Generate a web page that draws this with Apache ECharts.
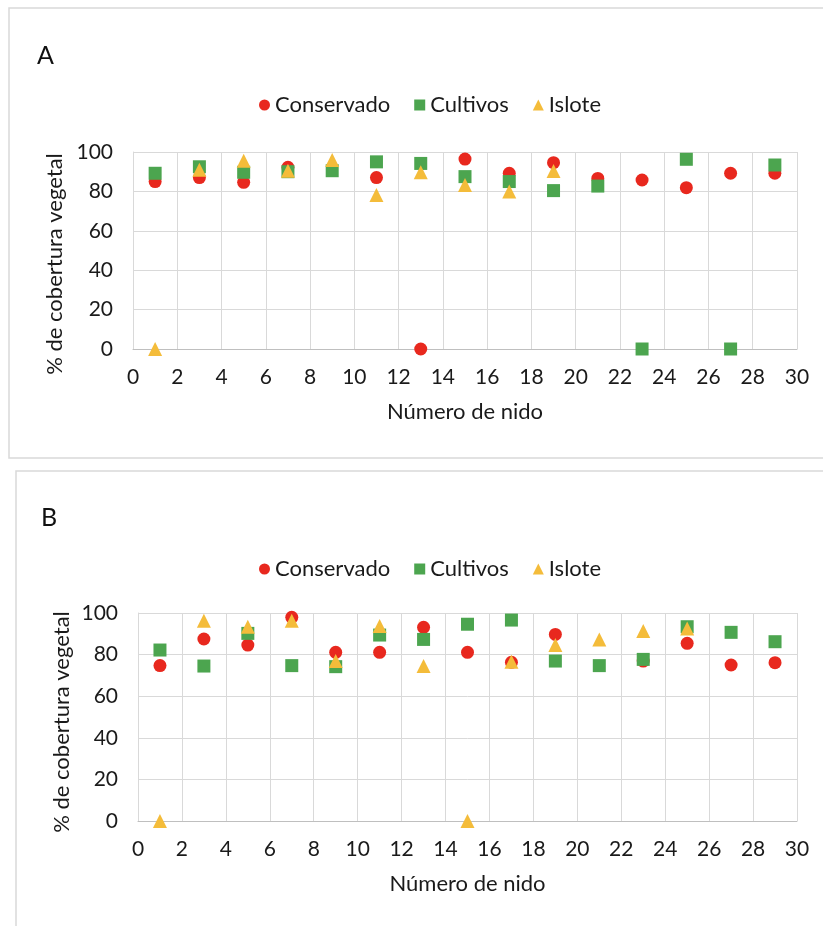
<!DOCTYPE html>
<html><head><meta charset="utf-8">
<script src="https://cdn.jsdelivr.net/npm/echarts@6/dist/echarts.min.js"></script>
<style>html,body{margin:0;padding:0;background:#fff}#c{width:823px;height:926px}</style>
</head><body><div id="c"></div>
<script>
const nests = [1,3,5,7,9,11,13,15,17,19,21,23,25,27,29];
const xTicks = [0,2,4,6,8,10,12,14,16,18,20,22,24,26,28,30];
const yTicks = [0,20,40,60,80,100];
const seriesNames = ['Conservado','Cultivos','Islote'];
// Panel A
const aConservado = [85,87,84.6,92.2,null,87,0,96.4,89.2,94.6,86.6,85.8,81.9,89.2,89.2];
const aCultivos   = [89.2,92.5,89.7,90,90.5,95,94.2,87.5,85,80.4,82.7,0,96.3,0,93.4];
const aIslote     = [0,91,95.6,90.5,96,78.2,89.7,83.2,79.9,90.4,null,null,null,null,null];
// Panel B
const bConservado = [74.7,87.5,84.6,97.9,81.1,81.1,93.1,81.1,76.3,89.7,null,76.9,85.4,75,76.1];
const bCultivos   = [82.2,74.5,90.2,74.7,74.2,89.4,87.3,94.6,96.6,76.9,74.7,77.7,93.4,90.7,86.2];
const bIslote     = [0,96.3,93.4,96.3,76.9,93.8,74.5,0,76.6,84.6,87.3,91.3,92.6,null,null];

const FONT = 'Lato';
const TXT = '#1a1a1a';
const colors = ['#E8281E','#4CA54F','#F4BC3A'];
const symbols = ['circle','rect','triangle'];
const sizes = [13,13,14];

function pairs(vals){ return nests.map((n,i)=>[n, vals[i]]); }

const grids = [
  {left:133, top:152, width:664, height:197},
  {left:138, top:613, width:659, height:208}
];
function xAx(gi){
  return {gridIndex:gi, type:'value', min:xTicks[0], max:xTicks[xTicks.length-1], interval:2,
    name:'Número de nido', nameLocation:'middle', nameGap:52,
    nameTextStyle:{fontFamily:FONT, fontSize:22, color:TXT},
    axisLine:{show:true, lineStyle:{color:'#bfbfbf'}}, axisTick:{show:false},
    axisLabel:{fontFamily:FONT, fontSize:21, color:TXT, margin:18},
    splitLine:{show:true, lineStyle:{color:'#d9d9d9', width:1}}};
}
function yAx(gi){
  return {gridIndex:gi, type:'value', min:yTicks[0], max:yTicks[yTicks.length-1], interval:20,
    axisLine:{show:true, lineStyle:{color:'#d9d9d9'}}, axisTick:{show:false},
    axisLabel:{fontFamily:FONT, fontSize:21, color:TXT, margin:20},
    splitLine:{show:true, lineStyle:{color:'#d9d9d9', width:1}}};
}
const panels = [[aConservado,aCultivos,aIslote],[bConservado,bCultivos,bIslote]];
const series = [];
panels.forEach((p,gi)=>{
  p.forEach((vals,si)=>{
    series.push({name:seriesNames[si], type:'scatter', xAxisIndex:gi, yAxisIndex:gi,
      symbol:symbols[si], symbolSize:sizes[si], data:pairs(vals),
      itemStyle:{color:colors[si], opacity:1}, z:2+si});
  });
});
const legendData = seriesNames.map((n,i)=>({name:n, icon:symbols[i]}));
function legend(top){
  return {top:top, left:254, data:legendData, itemWidth:11, itemHeight:11, itemGap:24,
    textStyle:{fontFamily:FONT, fontSize:22, color:TXT}, selectedMode:false};
}
function yTitle(x, y){
  return {type:'text', x:x, y:y, rotation:Math.PI/2,
    style:{text:'% de cobertura vegetal', fontFamily:FONT, fontSize:22, fill:TXT, align:'center', verticalAlign:'middle'}};
}
const chart = echarts.init(document.getElementById('c'), null, {renderer:'canvas'});
chart.setOption({
  animation:false,
  backgroundColor:'#fff',
  grid:grids,
  xAxis:[xAx(0), xAx(1)],
  yAxis:[yAx(0), yAx(1)],
  legend:[legend(89), legend(553)],
  graphic:[
    {type:'rect', shape:{x:9, y:8, width:840, height:450}, style:{fill:'none', stroke:'#d9d9d9', lineWidth:1.5}, z:-1},
    {type:'rect', shape:{x:16, y:471, width:840, height:480}, style:{fill:'none', stroke:'#d9d9d9', lineWidth:1.5}, z:-1},
    {type:'text', left:37, top:43, style:{text:'A', fontFamily:FONT, fontSize:25, fill:'#111'}},
    {type:'text', left:41, top:505, style:{text:'B', fontFamily:FONT, fontSize:25, fill:'#111'}},
    yTitle(55, 264),
    yTitle(62, 722)
  ],
  series:series
});
</script></body></html>
